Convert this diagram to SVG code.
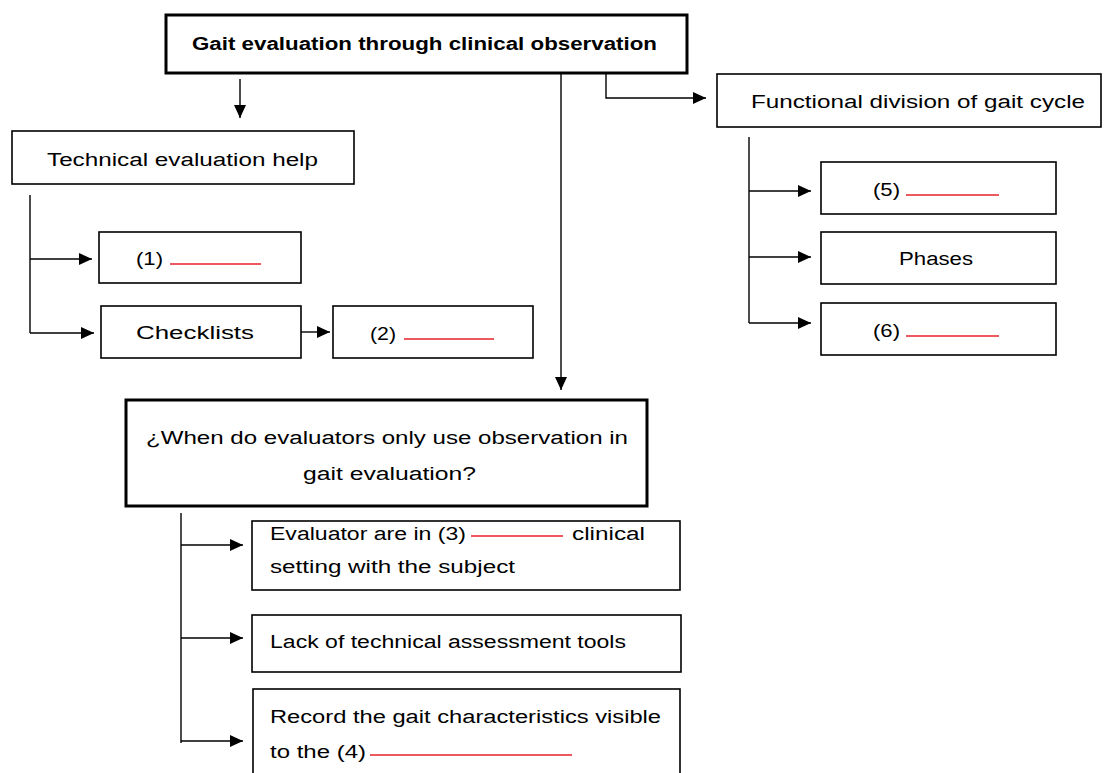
<svg xmlns="http://www.w3.org/2000/svg" width="1107" height="773" viewBox="0 0 1107 773">
<style>
.box{fill:#fff;stroke:#000;stroke-width:1.6}
.thick{fill:#fff;stroke:#000;stroke-width:3}
.t{font-family:"Liberation Sans","DejaVu Sans",sans-serif;font-size:18px;fill:#000}
.b{font-weight:bold}
.blank{stroke:#e8202a;stroke-width:1.6}
.c{fill:none;stroke:#000;stroke-width:1.4}
</style>
<defs>
<marker id="ah" markerWidth="14" markerHeight="12" refX="13" refY="6" orient="auto" markerUnits="userSpaceOnUse">
<path d="M0,0 L13,6 L0,12 Z" fill="#000"/>
</marker>
</defs>
<g id="connectors">
<path class="c" d="M240,79 V118" marker-end="url(#ah)"/>
<path class="c" d="M561,73 V390" marker-end="url(#ah)"/>
<path class="c" d="M606,73 V98 H706" marker-end="url(#ah)"/>
<path class="c" d="M30,195 V333"/>
<path class="c" d="M30,259 H92" marker-end="url(#ah)"/>
<path class="c" d="M30,333 H94" marker-end="url(#ah)"/>
<path class="c" d="M301,332 H330" marker-end="url(#ah)"/>
<path class="c" d="M749,137 V323"/>
<path class="c" d="M749,191 H811" marker-end="url(#ah)"/>
<path class="c" d="M749,257 H811" marker-end="url(#ah)"/>
<path class="c" d="M749,323 H811" marker-end="url(#ah)"/>
<path class="c" d="M181,513 V743"/>
<path class="c" d="M181,545 H243" marker-end="url(#ah)"/>
<path class="c" d="M181,638 H243" marker-end="url(#ah)"/>
<path class="c" d="M181,741 H243" marker-end="url(#ah)"/>
</g>
<g id="title">
<rect class="thick" x="166" y="15" width="521" height="58"/>
<text class="t b" x="192" y="50" textLength="465" lengthAdjust="spacingAndGlyphs">Gait evaluation through clinical observation</text>
</g>
<g id="tech">
<rect class="box" x="12" y="131" width="342" height="53"/>
<text class="t" x="47" y="166" textLength="271" lengthAdjust="spacingAndGlyphs">Technical evaluation help</text>
</g>
<g id="n1">
<rect class="box" x="99" y="232" width="202" height="51"/>
<text class="t" x="136" y="265" textLength="27" lengthAdjust="spacingAndGlyphs">(1)</text>
<line class="blank" x1="170" y1="264" x2="261" y2="264"/>
</g>
<g id="checklists">
<rect class="box" x="101" y="306" width="200" height="52"/>
<text class="t" x="136" y="339" textLength="118" lengthAdjust="spacingAndGlyphs">Checklists</text>
</g>
<g id="n2">
<rect class="box" x="333" y="306" width="200" height="52"/>
<text class="t" x="370" y="340" textLength="26" lengthAdjust="spacingAndGlyphs">(2)</text>
<line class="blank" x1="404" y1="339" x2="494" y2="339"/>
</g>
<g id="functional">
<rect class="box" x="717" y="74" width="384" height="53"/>
<text class="t" x="751" y="108" textLength="334" lengthAdjust="spacingAndGlyphs">Functional division of gait cycle</text>
</g>
<g id="n5">
<rect class="box" x="821" y="162" width="235" height="52"/>
<text class="t" x="873" y="196" textLength="27" lengthAdjust="spacingAndGlyphs">(5)</text>
<line class="blank" x1="906" y1="195" x2="999" y2="195"/>
</g>
<g id="phases">
<rect class="box" x="821" y="232" width="235" height="52"/>
<text class="t" x="899" y="265" textLength="74" lengthAdjust="spacingAndGlyphs">Phases</text>
</g>
<g id="n6">
<rect class="box" x="821" y="303" width="235" height="52"/>
<text class="t" x="873" y="337" textLength="27" lengthAdjust="spacingAndGlyphs">(6)</text>
<line class="blank" x1="906" y1="336" x2="999" y2="336"/>
</g>
<g id="when">
<rect class="thick" x="126" y="400" width="521" height="106"/>
<text class="t" x="146" y="444" textLength="482" lengthAdjust="spacingAndGlyphs">¿When do evaluators only use observation in</text>
<text class="t" x="303" y="480" textLength="173" lengthAdjust="spacingAndGlyphs">gait evaluation?</text>
</g>
<g id="n3">
<rect class="box" x="252" y="521" width="428" height="69"/>
<text class="t" x="270" y="540" textLength="196" lengthAdjust="spacingAndGlyphs">Evaluator are in (3)</text>
<line class="blank" x1="471" y1="536" x2="563" y2="536"/>
<text class="t" x="572" y="540" textLength="73" lengthAdjust="spacingAndGlyphs">clinical</text>
<text class="t" x="270" y="573" textLength="245" lengthAdjust="spacingAndGlyphs">setting with the subject</text>
</g>
<g id="lack">
<rect class="box" x="252" y="615" width="429" height="57"/>
<text class="t" x="270" y="648" textLength="356" lengthAdjust="spacingAndGlyphs">Lack of technical assessment tools</text>
</g>
<g id="record">
<rect class="box" x="253" y="689" width="427" height="90"/>
<text class="t" x="270" y="723" textLength="391" lengthAdjust="spacingAndGlyphs">Record the gait characteristics visible</text>
<text class="t" x="270" y="758" textLength="96" lengthAdjust="spacingAndGlyphs">to the (4)</text>
<line class="blank" x1="370" y1="755" x2="572" y2="755"/>
</g>
</svg>
